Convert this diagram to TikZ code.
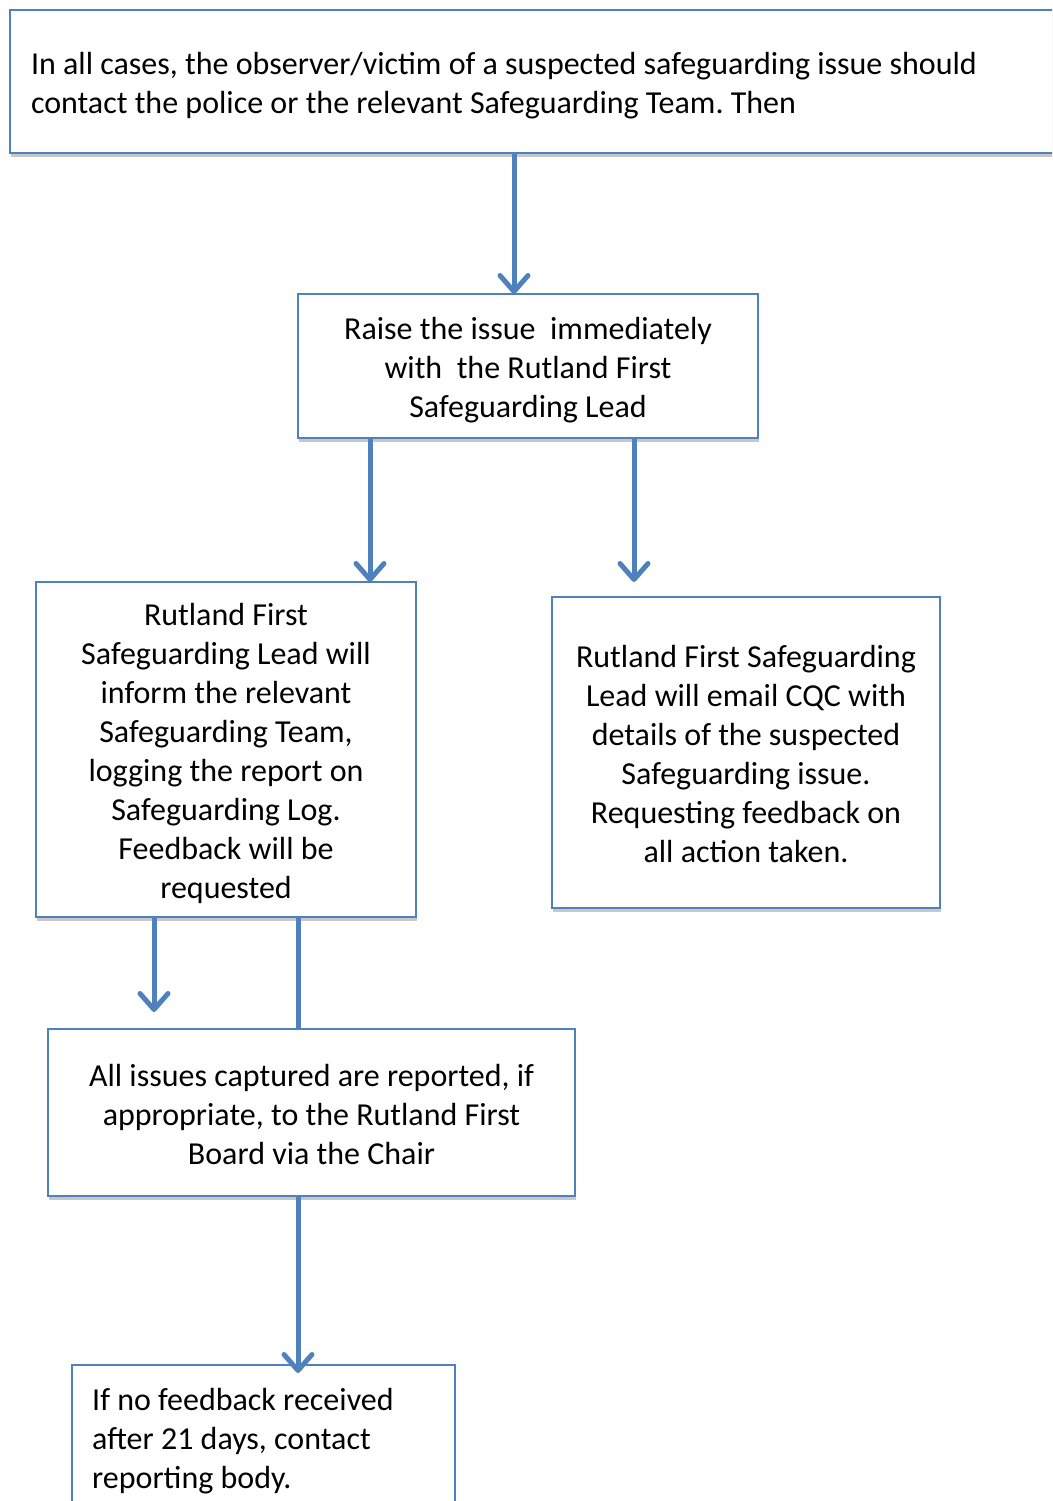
\documentclass[tikz,border=0pt]{standalone}
\usepackage{fontspec}
\setmainfont{Carlito}
\frenchspacing
\usetikzlibrary{arrows.meta,shadows}
\definecolor{bord}{RGB}{79,129,189}
\begin{document}
\begin{tikzpicture}[x=1pt,y=-1pt,
  box/.style={draw=bord, line width=2pt, fill=white, inner sep=0pt, outer sep=0pt,
    drop shadow={shadow xshift=0.5pt, shadow yshift=-4pt, fill=black!22, opacity=1}},
  txt/.style={inner sep=0pt, font=\fontsize{32}{39}\selectfont},
  arr/.style={draw=bord, line width=5pt, -{Straight Barb[length=16pt,width=28pt,round]}},
  ln/.style={draw=bord, line width=5pt}]
\clip (0,0) rectangle (1052,1501);
\fill[white] (0,0) rectangle (1052,1501);
% boxes
\node[box, minimum width=1060pt, minimum height=143pt] (top) at (540,81.5) {};
\node[box, minimum width=460pt, minimum height=144pt] (raise) at (528,366) {};
\node[box, minimum width=380pt, minimum height=335pt] (lbox) at (226,749.5) {};
\node[box, minimum width=388pt, minimum height=311pt] (rbox) at (746,752.5) {};
\node[box, minimum width=527pt, minimum height=167pt] (abox) at (311.5,1112.5) {};
\node[box, minimum width=383pt, minimum height=200pt, anchor=north west] (bbox) at (72,1365) {};
% texts
\node[txt, text width=1018pt, align=flush left] (ttop) at ([yshift=-4pt]top.center)
  {In all cases, the observer/victim of a suspected safeguarding issue should\\contact the police or the relevant Safeguarding Team. Then};
\node[txt, align=center] (traise) at ([yshift=-4pt]raise.center)
  {Raise the issue\ \ immediately\\with\ \ the Rutland First\\Safeguarding Lead};
\node[txt, align=center] (tlbox) at ([yshift=-4pt]lbox.center)
  {Rutland First\\Safeguarding Lead will\\inform the relevant\\Safeguarding Team,\\logging the report on\\Safeguarding Log.\\Feedback will be\\requested};
\node[txt, align=center] (trbox) at ([yshift=-2pt]rbox.center)
  {Rutland First Safeguarding\\Lead will email CQC with\\details of the suspected\\Safeguarding issue.\\Requesting feedback on\\all action taken.};
\node[txt, align=center] (tabox) at ([yshift=-2pt]abox.center)
  {All issues captured are reported, if\\appropriate, to the Rutland First\\Board via the Chair};
\node[txt, anchor=north west, text width=343pt, align=flush left] (tbbox) at ([xshift=20pt,yshift=-23pt]bbox.north west)
  {If no feedback received\\after 21 days, contact\\reporting body.};
% connectors
\coordinate (xa) at (514,0);
\coordinate (xb) at (370,0);
\coordinate (xc) at (634,0);
\coordinate (xd) at (154,0);
\coordinate (xe) at (298,0);
\draw[arr] (xa |- top.south) -- (xa |- raise.north);
\draw[arr] (xb |- raise.south) -- (xb |- lbox.north);
\draw[arr] (xc |- raise.south) -- ([yshift=15pt]xc |- rbox.north);
\draw[arr] (xd |- lbox.south) -- ([yshift=17pt]xd |- abox.north);
\draw[ln] (xe |- lbox.south) -- (xe |- abox.north);
\draw[arr] (xe |- abox.south) -- ([yshift=-8pt]xe |- bbox.north);
\end{tikzpicture}
\end{document}
